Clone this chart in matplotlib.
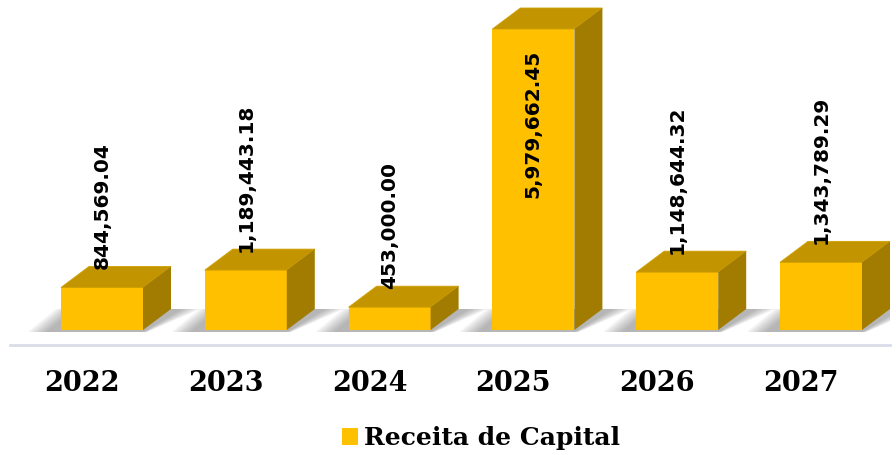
import numpy as np
import matplotlib
matplotlib.use("Agg")
import matplotlib.pyplot as plt
from matplotlib.patches import Polygon, Patch

years = ["2022", "2023", "2024", "2025", "2026", "2027"]
receita = [844569.04, 1189443.18, 453000.00, 5979662.45, 1148644.32, 1343789.29]
labels = ["844,569.04", "1,189,443.18", "453,000.00", "5,979,662.45", "1,148,644.32", "1,343,789.29"]

front_c = "#FFC000"
top_c = "#C29400"
side_c = "#A27C00"

W, H = 896, 455
fig = plt.figure(figsize=(W / 100, H / 100), dpi=100)

# axes box in pixels: x 10..890, y 5..345 (from top)
ax = fig.add_axes([10 / W, (H - 345) / H, 880 / W, 340 / H])
px_per_cat = 143.8
units_per_px = 19866.0
ax.set_xlim((10 - 102) / px_per_cat, (890 - 102) / px_per_cat)
ax.set_ylim(-15 * units_per_px, (345 - 5 - 15) * units_per_px)

x = np.arange(len(years))
width = 82 / px_per_cat
dx = 28 / px_per_cat
dy = 21 * units_per_px

# soft shadows at the base
for i, v in enumerate(receita):
    xl, xr = x[i] - width / 2, x[i] + width / 2
    for k in range(7):
        grow = (7 - k) * 3 / px_per_cat
        shadow = Polygon([(xl - 12 / px_per_cat - grow, -2 * units_per_px),
                          (xr + grow * 0.2, -2 * units_per_px),
                          (xr + dx + 8 / px_per_cat + grow, dy),
                          (xl + dx - 12 / px_per_cat - grow, dy)],
                         closed=True, facecolor="#505050", edgecolor="none",
                         alpha=0.07, zorder=1)
        ax.add_patch(shadow)

ax.bar(x, receita, width=width, color=front_c, edgecolor="none", zorder=3)

for i, v in enumerate(receita):
    xl, xr = x[i] - width / 2, x[i] + width / 2
    top = Polygon([(xl, v), (xr, v), (xr + dx, v + dy), (xl + dx, v + dy)],
                  closed=True, facecolor=top_c, edgecolor="#D0A000", lw=0.6, zorder=3)
    side = Polygon([(xr, 0), (xr + dx, dy), (xr + dx, v + dy), (xr, v)],
                   closed=True, facecolor=side_c, edgecolor="none", zorder=3)
    ax.add_patch(top)
    ax.add_patch(side)

# value labels
for i, v in enumerate(receita):
    if v > 3000000:
        ax.text(x[i], v - 21 * units_per_px, labels[i], rotation=90, ha="center", va="top",
                fontsize=14.5, fontweight="bold", family="DejaVu Sans", zorder=5)
    else:
        ax.text(x[i], v + 18 * units_per_px, labels[i], rotation=90, ha="center", va="bottom",
                fontsize=14.5, fontweight="bold", family="DejaVu Sans", zorder=5)

for s in ["top", "right", "left"]:
    ax.spines[s].set_visible(False)
ax.spines["bottom"].set_color("#D9DDE8")
ax.spines["bottom"].set_linewidth(2)
ax.set_yticks([])
ax.set_xticks(x - 20 / px_per_cat)
ax.set_xticklabels(years, fontsize=19.5, fontweight="bold", family="DejaVu Serif")
ax.tick_params(axis="x", length=0, pad=18)
ax.set_facecolor("none")

fig.legend(handles=[Patch(facecolor=front_c, edgecolor="none")], labels=["Receita de Capital"],
           loc="center", bbox_to_anchor=(0.537, 17 / H), frameon=False,
           prop={"family": "DejaVu Serif", "weight": "bold", "size": 18},
           handlelength=0.65, handleheight=0.65, handletextpad=0.25)

fig.savefig("out.png", dpi=100, facecolor="white")
